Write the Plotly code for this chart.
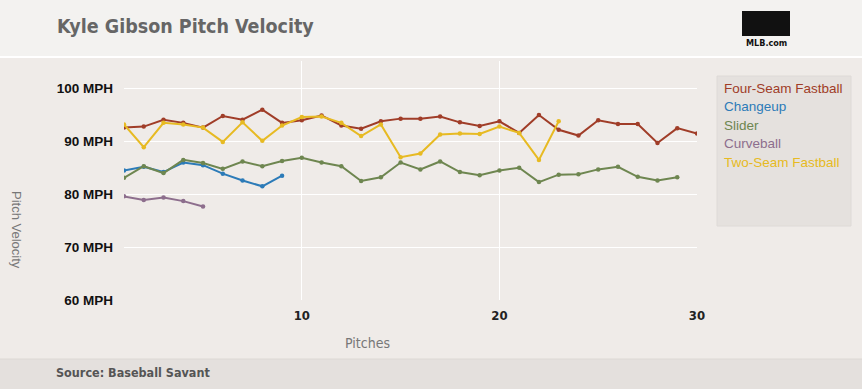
import plotly.graph_objects as go

pitches_fs = list(range(1, 31))
four_seam = [92.6, 92.8, 94.1, 93.5, 92.6, 94.8, 94.1, 96.0, 93.5, 94.0,
             94.9, 93.0, 92.4, 93.8, 94.3, 94.3, 94.7, 93.6, 92.9, 93.8,
             91.6, 95.0, 92.2, 91.1, 94.0, 93.3, 93.3, 89.7, 92.5, 91.5]
pitches_ch = list(range(1, 10))
changeup = [84.5, 85.2, 84.2, 86.0, 85.5, 83.9, 82.6, 81.5, 83.5]
pitches_sl = list(range(1, 30))
slider = [83.1, 85.3, 84.0, 86.5, 85.9, 84.8, 86.2, 85.3, 86.3, 86.9,
          86.0, 85.3, 82.5, 83.2, 86.0, 84.7, 86.2, 84.2, 83.6, 84.5,
          85.0, 82.3, 83.7, 83.8, 84.7, 85.2, 83.3, 82.6, 83.2]
pitches_cb = list(range(1, 6))
curveball = [79.6, 78.9, 79.4, 78.7, 77.7]
pitches_ts = list(range(1, 24))
two_seam = [93.2, 88.9, 93.5, 93.2, 92.6, 89.9, 93.6, 90.1, 93.0, 94.6,
            94.7, 93.5, 91.0, 93.2, 87.0, 87.7, 91.3, 91.5, 91.4, 92.8,
            91.6, 86.5, 93.8]

series_names = ["Four-Seam Fastball", "Changeup", "Slider", "Curveball", "Two-Seam Fastball"]
series_x = [pitches_fs, pitches_ch, pitches_sl, pitches_cb, pitches_ts]
series_y = [four_seam, changeup, slider, curveball, two_seam]
colors = ["#a03d28", "#2c7bb8", "#6e8650", "#8d6e8d", "#e7ba22"]

x_ticks = [10, 20, 30]
x_ticktext = ["<b>10</b>", "<b>20</b>", "<b>30</b>"]
y_ticks = [60, 70, 80, 90, 100]
y_ticktext = ["<b>60 MPH</b>", "<b>70 MPH</b>", "<b>80 MPH</b>", "<b>90 MPH</b>", "<b>100 MPH</b>"]

W, H = 862, 389
L, R, T, B = 124, 165, 61, 89
PW, PH = W - L - R, H - T - B


def px(x):
    return (x - L) / PW


def py(y):
    return (H - B - y) / PH


NARROW = "Liberation Sans Narrow, Arial Narrow, DejaVu Sans Condensed, sans-serif"
SANS = "Liberation Sans, Arial, sans-serif"

fig = go.Figure()
for name, xs, ys, c in zip(series_names, series_x, series_y, colors):
    fig.add_trace(go.Scatter(x=xs, y=ys, name=name, mode="lines+markers",
                             line=dict(color=c, width=2),
                             marker=dict(color=c, size=4.5),
                             showlegend=False))

shapes = [
    dict(type="rect", xref="paper", yref="paper", x0=px(0), x1=px(W), y0=py(56), y1=py(0),
         fillcolor="#f3f2f0", line_width=0, layer="below"),
    dict(type="line", xref="paper", yref="paper", x0=px(0), x1=px(W), y0=py(57), y1=py(57),
         line=dict(color="#ffffff", width=2), layer="below"),
    dict(type="rect", xref="paper", yref="paper", x0=px(0), x1=px(W), y0=py(H), y1=py(359),
         fillcolor="#e4e0dd", line_width=0, layer="below"),
    dict(type="line", xref="paper", yref="paper", x0=px(0), x1=px(W), y0=py(359), y1=py(359),
         line=dict(color="#dcd8d5", width=1), layer="below"),
    dict(type="rect", xref="paper", yref="paper", x0=px(717), x1=px(851), y0=py(226), y1=py(76),
         fillcolor="#e5e1de", line=dict(color="#dedad7", width=1), layer="below"),
    dict(type="rect", xref="paper", yref="paper", x0=px(742), x1=px(790), y0=py(36), y1=py(11),
         fillcolor="#111111", line_width=0),
]

annotations = [
    dict(text="<b>Kyle Gibson Pitch Velocity</b>", xref="paper", yref="paper",
         x=px(55), y=py(27), xanchor="left", yanchor="middle", showarrow=False,
         font=dict(family=NARROW, size=19.5, color="#666666")),
    dict(text="<b>MLB.com</b>", xref="paper", yref="paper",
         x=px(766), y=py(43), xanchor="center", yanchor="middle", showarrow=False,
         font=dict(family=NARROW, size=9, color="#111111")),
    dict(text="<b>Source: Baseball Savant</b>", xref="paper", yref="paper",
         x=px(54), y=py(372), xanchor="left", yanchor="middle", showarrow=False,
         font=dict(family=NARROW, size=12.5, color="#555555")),
    dict(text="Pitches", xref="paper", yref="paper",
         x=px(367), y=py(343), xanchor="center", yanchor="middle", showarrow=False,
         font=dict(family=NARROW, size=14, color="#777777")),
    dict(text="Pitch Velocity", xref="paper", yref="paper", textangle=90,
         x=px(17), y=py(230), xanchor="center", yanchor="middle", showarrow=False,
         font=dict(family=SANS, size=13, color="#777777")),
]
for i, (name, c) in enumerate(zip(series_names, colors)):
    annotations.append(dict(text=name, xref="paper", yref="paper",
                            x=px(722), y=py(88 + i * 18.6), xanchor="left", yanchor="middle",
                            showarrow=False, font=dict(family=SANS, size=13.5, color=c)))

fig.update_layout(
    width=W, height=H,
    margin=dict(l=L, r=R, t=T, b=B),
    paper_bgcolor="#efebe8", plot_bgcolor="#efebe8",
    shapes=shapes, annotations=annotations,
    xaxis=dict(range=[1, 30], tickvals=x_ticks, ticktext=x_ticktext, showgrid=True,
               gridcolor="#ffffff", gridwidth=1,
               zeroline=False, showline=False, ticks="",
               tickfont=dict(family=NARROW, size=13, color="#222222"),
               ticklabelstandoff=6),
    yaxis=dict(range=[60, 105.2], tickvals=y_ticks, ticktext=y_ticktext, showgrid=True,
               gridcolor="#ffffff", gridwidth=1, zeroline=False, showline=False, ticks="",
               tickfont=dict(family=SANS, size=13.5, color="#111111"),
               ticklabelstandoff=10),
)

fig.write_html("out.html", config={"displayModeBar": False},
               post_script="document.body.style.margin='0';document.body.style.padding='0';")
